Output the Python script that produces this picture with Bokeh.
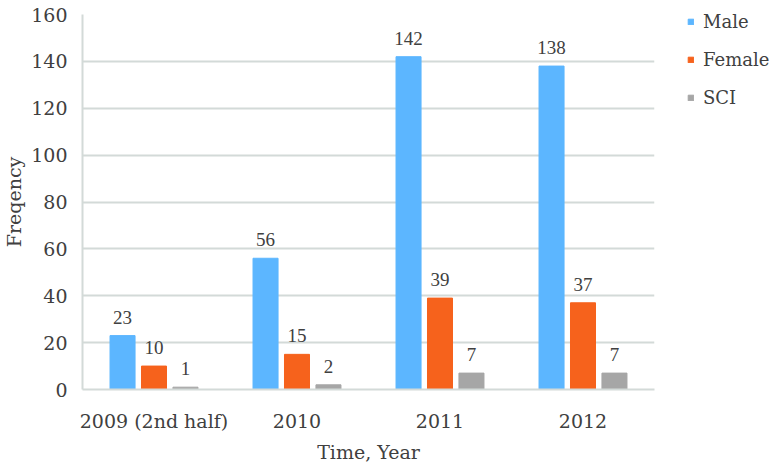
from bokeh.plotting import figure
from bokeh.models import ColumnDataSource, FactorRange, Legend, LegendItem, FixedTicker, LabelSet
from bokeh.transform import dodge
from bokeh.embed import file_html
from bokeh.resources import INLINE

categories = ["2009 (2nd half)", "2010", "2011", "2012"]
male = [23, 56, 142, 138]
female = [10, 15, 39, 37]
sci = [1, 2, 7, 7]
y_ticks = [0, 20, 40, 60, 80, 100, 120, 140, 160]

FONT = "DejaVu Serif"
TXT = "#404040"

src = ColumnDataSource(dict(cat=categories, male=male, female=female, sci=sci,
                            male_s=[str(v) for v in male],
                            female_s=[str(v) for v in female],
                            sci_s=[str(v) for v in sci]))

p = figure(frame_width=572, frame_height=375,
           x_range=FactorRange(*categories, range_padding=0),
           y_range=(0, 160), output_backend="svg", toolbar_location=None,
           min_border_left=75, min_border_top=14, min_border_right=121, min_border_bottom=60)
p.outline_line_color = None

off = 0.22
w = 0.175
r1 = p.vbar(x=dodge("cat", -off, range=p.x_range), top="male", width=w, source=src, color="#5CB6FF")
r2 = p.vbar(x=dodge("cat", 0, range=p.x_range), top="female", width=w, source=src, color="#F6621C")
r3 = p.vbar(x=dodge("cat", off, range=p.x_range), top="sci", width=w, source=src, color="#A6A6A6")

for col, dx in (("male", -off), ("female", 0), ("sci", off)):
    ls = LabelSet(x=dodge("cat", dx, range=p.x_range), y=col, text=col + "_s", source=src,
                  y_offset=12, text_align="center", text_font=FONT, text_font_size="19px",
                  text_color=TXT)
    p.add_layout(ls)

p.yaxis.ticker = FixedTicker(ticks=y_ticks)
p.ygrid.grid_line_color = "#D3DAD8"
p.ygrid.grid_line_width = 2
p.xgrid.grid_line_color = None

for ax in (p.xaxis[0], p.yaxis[0]):
    ax.axis_line_color = "#D3DAD8"
    ax.axis_line_width = 2
    ax.major_tick_line_color = None
    ax.minor_tick_line_color = None
    ax.major_label_text_font = FONT
    ax.major_label_text_font_size = "19px"
    ax.major_label_text_color = TXT
    ax.axis_label_text_font = FONT
    ax.axis_label_text_font_size = "19px"
    ax.axis_label_text_color = TXT
    ax.axis_label_text_font_style = "normal"

p.xaxis.axis_label = "Time, Year"
p.yaxis.axis_label = "Freqency"
p.xaxis.major_label_standoff = 14
p.yaxis.major_label_standoff = 9
p.xaxis.axis_label_standoff = 6
p.yaxis.axis_label_standoff = 3

legend = Legend(items=[LegendItem(label="Male", renderers=[r1]),
                       LegendItem(label="Female", renderers=[r2]),
                       LegendItem(label="SCI", renderers=[r3])],
                location=(33, 281), border_line_color=None, background_fill_alpha=0,
                glyph_width=7, glyph_height=7, label_text_font=FONT,
                label_text_font_size="18px", label_text_color=TXT, spacing=17,
                padding=0, margin=0, label_standoff=9)
p.add_layout(legend, "right")

open("out.html", "w").write(file_html(p, INLINE))
